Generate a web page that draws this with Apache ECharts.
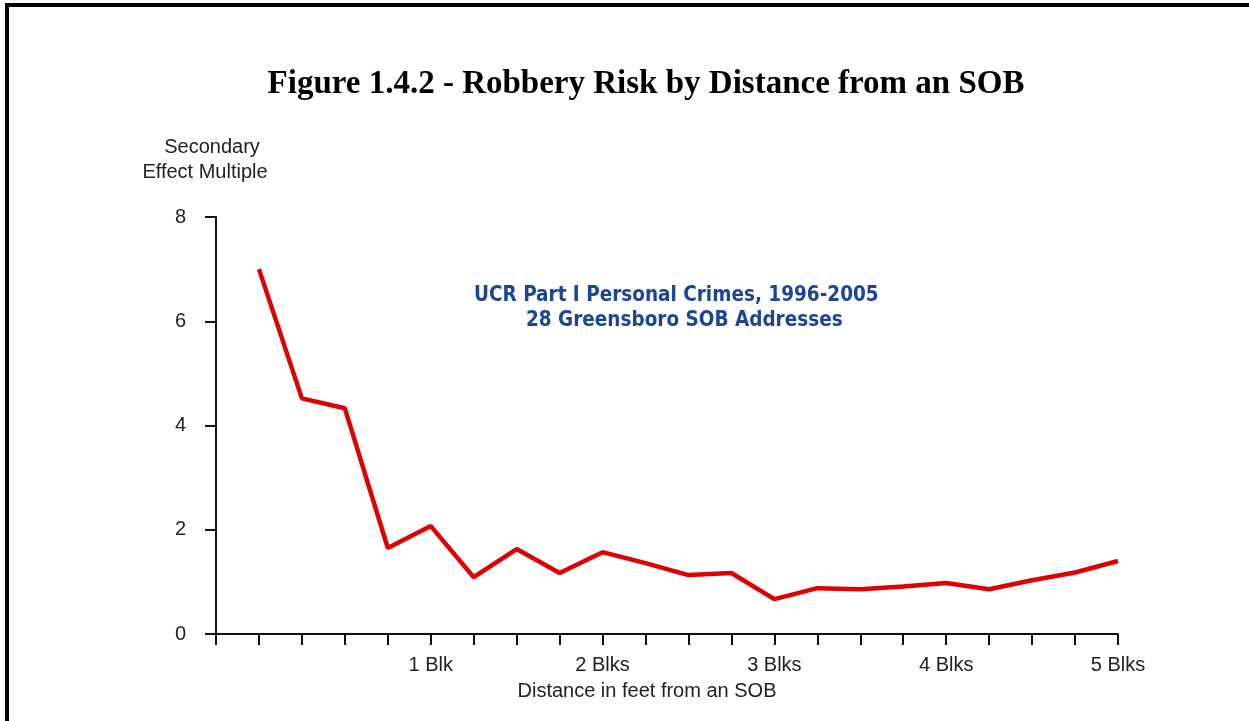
<!DOCTYPE html>
<html>
<head>
<meta charset="utf-8">
<title>Robbery Risk by Distance from an SOB</title>
<script src="https://cdn.jsdelivr.net/npm/echarts@6/dist/echarts.min.js"></script>
<style>
  html, body { margin: 0; padding: 0; background: #fff; }
  #chart { width: 1249px; height: 721px; }
</style>
</head>
<body>
<div id="chart"></div>
<script>
  // x positions: one blank slot at the origin, then every quarter block
  var distanceLabels = ['', '', '', '', '', '1 Blk', '', '', '', '2 Blks', '', '', '', '3 Blks',
    '', '', '', '4 Blks', '', '', '', '5 Blks'];
  // secondary effect multiple, first slot empty
  var effectMultiple = ['-', 7.0, 4.52, 4.33, 1.65, 2.07, 1.09, 1.63, 1.17, 1.57, 1.36,
    1.13, 1.17, 0.67, 0.88, 0.86, 0.91, 0.98, 0.86, 1.03, 1.18, 1.40];
  var yTicks = [0, 2, 4, 6, 8];

  var chart = echarts.init(document.getElementById('chart'));
  var sans = 'Liberation Sans, Arial, sans-serif';
  var blueFont = 'bold 20.5px DejaVu Sans Condensed, DejaVu Sans, sans-serif';

  chart.setOption({
    animation: false,
    backgroundColor: '#fff',
    title: {
      text: 'Figure 1.4.2 - Robbery Risk by Distance from an SOB',
      left: 641,
      top: 63,
      textAlign: 'center',
      textStyle: {
        fontFamily: 'Liberation Serif, Times New Roman, serif',
        fontWeight: 'bold',
        fontSize: 33,
        color: '#000'
      }
    },
    grid: {
      left: 216,
      right: 131,
      top: 217,
      bottom: 87
    },
    xAxis: {
      type: 'category',
      boundaryGap: false,
      data: distanceLabels,
      axisLine: { onZero: false, lineStyle: { color: '#111', width: 2 } },
      axisTick: { show: true, interval: 0, length: 11, lineStyle: { color: '#111', width: 2 } },
      axisLabel: {
        interval: 0,
        margin: 21,
        fontFamily: sans,
        fontSize: 20,
        color: '#222'
      },
      splitLine: { show: false }
    },
    yAxis: {
      type: 'value',
      min: yTicks[0],
      max: yTicks[yTicks.length - 1],
      interval: 2,
      axisLine: { show: true, lineStyle: { color: '#111', width: 2 } },
      axisTick: { show: true, length: 11, lineStyle: { color: '#111', width: 2 } },
      axisLabel: {
        margin: 30,
        fontFamily: sans,
        fontSize: 20,
        color: '#222'
      },
      splitLine: { show: false }
    },
    series: [{
      type: 'line',
      data: effectMultiple,
      showSymbol: false,
      symbol: 'none',
      lineStyle: { color: '#e00000', width: 4.5 }
    }],
    graphic: [
      {
        // page frame: left and top edges only
        type: 'polyline',
        shape: { points: [[7, 730], [7, 5], [1260, 5]] },
        style: { fill: null, stroke: '#000', lineWidth: 4 },
        silent: true
      },
      {
        type: 'text',
        x: 212,
        y: 147,
        style: {
          text: 'Secondary',
          textAlign: 'center',
          textVerticalAlign: 'middle',
          font: '20px ' + sans,
          fill: '#222'
        }
      },
      {
        type: 'text',
        x: 205,
        y: 172,
        style: {
          text: 'Effect Multiple',
          textAlign: 'center',
          textVerticalAlign: 'middle',
          font: '20px ' + sans,
          fill: '#222'
        }
      },
      {
        type: 'text',
        x: 647,
        y: 691,
        style: {
          text: 'Distance in feet from an SOB',
          textAlign: 'center',
          textVerticalAlign: 'middle',
          font: '20px ' + sans,
          fill: '#222'
        }
      },
      {
        type: 'text',
        x: 474,
        y: 296,
        style: {
          text: 'UCR Part I Personal Crimes, 1996-2005',
          textVerticalAlign: 'middle',
          font: blueFont,
          fill: '#1c4596'
        }
      },
      {
        type: 'text',
        x: 526,
        y: 321,
        style: {
          text: '28 Greensboro SOB Addresses',
          textVerticalAlign: 'middle',
          font: blueFont,
          fill: '#1c4596'
        }
      }
    ]
  });
</script>
</body>
</html>
